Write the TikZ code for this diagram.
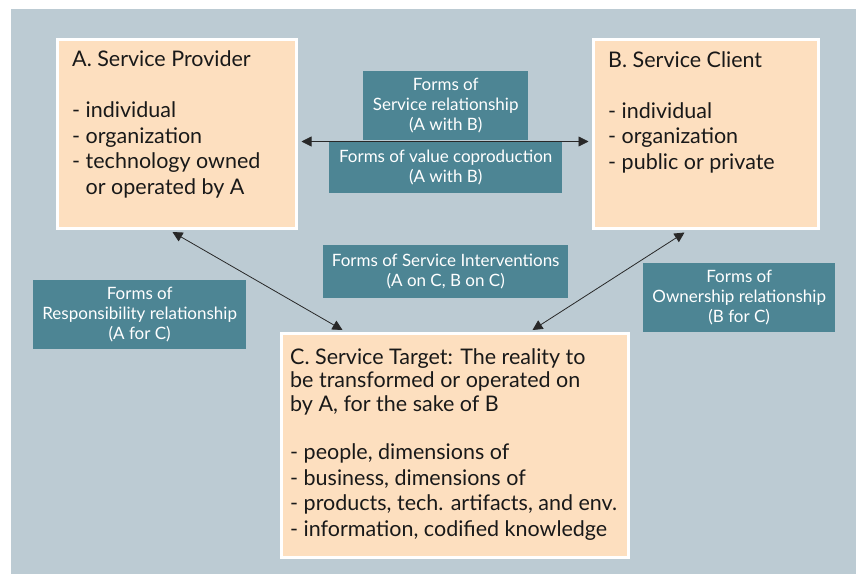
\documentclass[tikz,border=0pt]{standalone}
\usepackage{fontspec}
\setmainfont{Lato}
\usetikzlibrary{arrows.meta,calc}
\definecolor{bgc}{RGB}{188,203,211}
\definecolor{peach}{RGB}{253,223,191}
\definecolor{teal}{RGB}{77,133,148}
\definecolor{ink}{RGB}{25,25,25}
\definecolor{arr}{RGB}{40,40,40}
\tikzset{
  pbox/.style={draw=white, line width=3pt, fill=peach, anchor=north west, inner sep=0pt},
  ptext/.style={anchor=base west, align=left, inner sep=0pt, text=ink, font=\fontsize{21.5}{25.5}\selectfont},
  tbox/.style={fill=teal, anchor=north west, inner sep=0pt, align=center, text=white, font=\fontsize{17}{20}\selectfont},
  conn/.style={draw=arr, line width=0.8pt, {Triangle[length=10pt,width=10pt]}-{Triangle[length=10pt,width=10pt]}}
}
\begin{document}
\begin{tikzpicture}[x=1pt,y=-1pt]
\useasboundingbox (0,0) rectangle (856,574);
\fill[bgc] (11,9) rectangle (856,574);
% peach boxes
\node[pbox, minimum width=239pt, minimum height=189pt] (A) at (55.5,37.5) {};
\node[pbox, minimum width=225pt, minimum height=189pt] (B) at (591.5,37.5) {};
\node[pbox, minimum width=347pt, minimum height=224pt] (C) at (279.5,331.5) {};
\node[ptext] (At) at (72,194) {A. Service Provider\\[25.5pt]- individual\\- organization\\- technology owned\\\phantom{- }or operated by A};
\node[ptext] (Bt) at (608,169) {B. Service Client\\[25.5pt]- individual\\- organization\\- public or private};
\node[ptext] (Ct) at (290,536) {C. Service Target: The reality to\\[-2pt]be transformed or operated on\\[-2pt]by A, for the sake of B\\[23pt]- people, dimensions of\\- business, dimensions of\\- products, tech. artifacts, and env.\\- information, codified knowledge};
% teal boxes
\node[tbox, minimum width=165pt, minimum height=69pt] (T1) at (363,71) {Forms of\\Service relationship\\(A with B)};
\node[tbox, minimum width=233pt, minimum height=51pt] (T2) at (329,142) {Forms of value coproduction\\(A with B)};
\node[tbox, minimum width=245pt, minimum height=53pt] (T3) at (323,245) {Forms of Service Interventions\\(A on C, B on C)};
\node[tbox, minimum width=213pt, minimum height=69pt] (T4) at (33,280) {Forms of\\Responsibility relationship\\(A for C)};
\node[tbox, minimum width=192pt, minimum height=69pt] (T5) at (643,263) {Forms of\\Ownership relationship\\(B for C)};
% connectors
\draw[conn] ([shift={(4pt,-8pt)}]A.east) -- ([shift={(-3pt,-8pt)}]B.west);
\draw[conn] ([shift={(117pt,-2.5pt)}]A.south west) -- ([shift={(63pt,1.5pt)}]C.north west);
\draw[conn] ([shift={(93pt,-3pt)}]B.south west) -- ([shift={(253pt,1.5pt)}]C.north west);
\end{tikzpicture}
\end{document}
